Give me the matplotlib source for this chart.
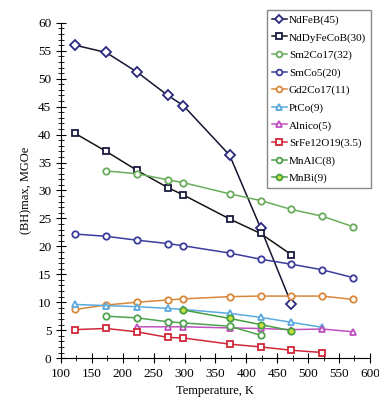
import matplotlib
matplotlib.use("Agg")
import matplotlib.pyplot as plt
from matplotlib.ticker import MultipleLocator

plt.rcParams["font.family"] = ["Liberation Serif", "DejaVu Serif"]

# temperatures (K) and (BH)max values (MGOe)
t_ndfeb = [123, 173, 223, 273, 298, 373, 423, 473]
ndfeb = [56.0, 54.7, 51.2, 47.0, 45.2, 36.3, 23.3, 9.7]

t_nddy = [123, 173, 223, 273, 298, 373, 423, 473]
ndDyFeCoB = [40.2, 37.0, 33.6, 30.5, 29.2, 24.9, 22.3, 18.5]

t_sm2co17 = [173, 223, 273, 298, 373, 423, 473, 523, 573]
sm2co17 = [33.5, 33.0, 31.9, 31.4, 29.4, 28.2, 26.6, 25.4, 23.5]

t_smco5 = [123, 173, 223, 273, 298, 373, 423, 473, 523, 573]
smco5 = [22.2, 21.8, 21.1, 20.5, 20.1, 18.8, 17.7, 16.8, 15.8, 14.4]

t_gd2co17 = [123, 173, 223, 273, 298, 373, 423, 473, 523, 573]
gd2co17 = [8.7, 9.5, 10.0, 10.4, 10.6, 11.0, 11.1, 11.1, 11.1, 10.5]

t_ptco = [123, 173, 223, 273, 298, 373, 423, 473, 523]
ptco = [9.6, 9.4, 9.2, 8.9, 8.7, 8.0, 7.3, 6.4, 5.5]

t_alnico = [223, 273, 298, 373, 423, 473, 523, 573]
alnico = [5.6, 5.6, 5.6, 5.4, 5.3, 5.1, 5.2, 4.7]

t_srfe = [123, 173, 223, 273, 298, 373, 423, 473, 523]
srfe12o19 = [5.1, 5.3, 4.7, 3.7, 3.6, 2.5, 2.0, 1.4, 1.0]

t_mnalc = [173, 223, 273, 298, 373, 423]
mnalc = [7.5, 7.2, 6.5, 6.3, 5.7, 4.1]

t_mnbi = [298, 373, 423, 473]
mnbi = [8.6, 7.1, 6.0, 4.9]

series = [
    ("NdFeB(45)", t_ndfeb, ndfeb, "#151530", "#2a2a80", "D", "white"),
    ("NdDyFeCoB(30)", t_nddy, ndDyFeCoB, "#151515", "#1a1a40", "s", "white"),
    ("Sm2Co17(32)", t_sm2co17, sm2co17, "#6aac5c", "#6aac5c", "o", "white"),
    ("SmCo5(20)", t_smco5, smco5, "#3c3c9c", "#3c3c9c", "o", "white"),
    ("Gd2Co17(11)", t_gd2co17, gd2co17, "#d8883a", "#d8883a", "o", "white"),
    ("PtCo(9)", t_ptco, ptco, "#5aaae0", "#5aaae0", "^", "white"),
    ("Alnico(5)", t_alnico, alnico, "#c050c0", "#c050c0", "^", "white"),
    ("SrFe12O19(3.5)", t_srfe, srfe12o19, "#d02838", "#d02838", "s", "white"),
    ("MnAlC(8)", t_mnalc, mnalc, "#4ea24e", "#4ea24e", "o", "white"),
    ("MnBi(9)", t_mnbi, mnbi, "#46a040", "#46a040", "o", "#c8e040"),
]

fig = plt.figure(figsize=(3.79, 4.01), dpi=100)
ax = fig.add_axes([0.161, 0.107, 0.815, 0.836])

for label, x, y, lc, mc, mk, fc in series:
    ax.plot(x, y, color=lc, linewidth=1.1, marker=mk, markersize=4.6,
            markeredgecolor=mc, markerfacecolor=fc, markeredgewidth=1.3,
            label=label)

ax.set_xlim(100, 600)
ax.set_ylim(0, 60)
ax.xaxis.set_major_locator(MultipleLocator(50))
ax.xaxis.set_minor_locator(MultipleLocator(25))
ax.yaxis.set_major_locator(MultipleLocator(5))
ax.yaxis.set_minor_locator(MultipleLocator(1))
ax.tick_params(which="major", direction="inout", length=7, width=0.8, labelsize=9.5)
ax.tick_params(which="minor", direction="inout", length=4, width=0.6)
for s in ("top", "right"):
    ax.spines[s].set_visible(False)

ax.set_xlabel("Temperature, K", fontsize=9)
ax.set_ylabel("(BH)max, MGOe", fontsize=9)

fig.legend(loc="upper right", bbox_to_anchor=(0.979, 0.975), borderaxespad=0,
           fontsize=8, handlelength=1.3, handletextpad=0.2, labelspacing=0.68,
           borderpad=0.45, fancybox=False, edgecolor="#888888", framealpha=1,
           markerscale=0.9)

fig.savefig("out.png", dpi=100)
